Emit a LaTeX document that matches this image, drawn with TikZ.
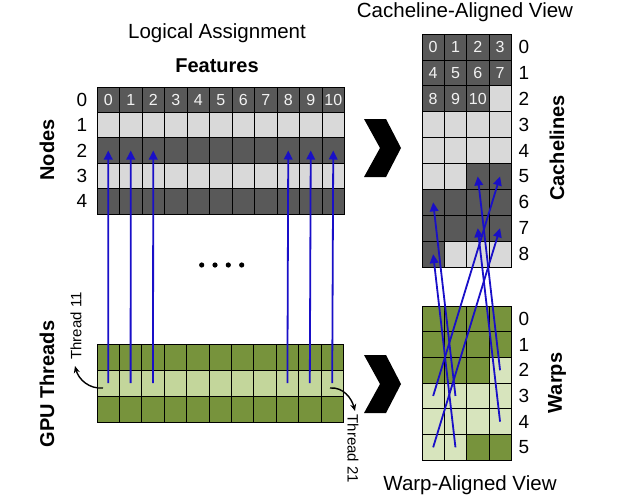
\documentclass[tikz,border=0pt]{standalone}
\usepackage{fontspec}
\setmainfont{Liberation Sans}
\usetikzlibrary{arrows.meta}
\definecolor{dgray}{HTML}{595959}
\definecolor{lgray}{HTML}{D9D9D9}
\definecolor{dgreen}{HTML}{77933C}
\definecolor{tgreen}{HTML}{C3D69B}
\definecolor{wgreen}{HTML}{D7E4BD}
\definecolor{arrblue}{RGB}{25,15,200}
\definecolor{celltxtc}{HTML}{F2F2F2}
\begin{document}
\begin{tikzpicture}[x=1pt,y=-1pt,
  cellbase/.style={draw=black, line width=0.7pt, inner sep=0pt, outer sep=0pt,
    text=celltxtc, font=\fontsize{16}{18}\selectfont},
  lcell/.style={cellbase, minimum width=22.5pt, minimum height=25.4pt},
  gcell/.style={cellbase, minimum width=22.4pt, minimum height=26pt},
  rcell/.style={cellbase, minimum width=22.3pt, minimum height=25.9pt},
  wcell/.style={cellbase, minimum width=22.3pt, minimum height=25.7pt},
  rowlbl/.style={inner sep=0pt, font=\fontsize{19}{21}\selectfont},
  title/.style={inner sep=0pt, font=\fontsize{20.5}{24}\selectfont},
  btitle/.style={inner sep=0pt, font=\fontsize{20}{24}\selectfont\bfseries},
  thrlbl/.style={inner sep=0pt, font=\fontsize{15}{17}\selectfont},
  maparrow/.style={draw=arrblue, line width=1.8pt, -{Triangle[length=9pt,width=8.5pt]}},
  thrarrow/.style={draw=black, line width=1.4pt, -{Stealth[length=7pt,width=6pt]}},
  chev/.style={fill=black}
]
\useasboundingbox (0,0) rectangle (621,496);

% ---------- titles ----------
\node[title] (tlog) at (217,33) {Logical Assignment};
\node[btitle] (tfeat) at (217,66) {Features};
\node[title] (tcache) at (465,12) {Cacheline-Aligned View};
\node[title] (twarp) at (470,485) {Warp-Aligned View};
\node[btitle, rotate=90] (tnodes) at (47,150) {Nodes};
\node[btitle, rotate=90] (tgpu) at (47,384) {GPU Threads};
\node[btitle, rotate=90] (tcl) at (557,148) {Cachelines};
\node[btitle, rotate=90] (twp) at (557,383) {Warps};

% ---------- logical grid ----------
\foreach \r in {0,...,4}{
  \foreach \c in {0,...,10}{
    \ifodd\r \def\cc{lgray}\else\def\cc{dgray}\fi
    \node[lcell, fill=\cc] (L-\r-\c) at ({97+22.5*(\c+0.5)},{87+25.4*(\r+0.5)}) {\ifnum\r=0 \c\fi};
  }
  \node[rowlbl] (LR-\r) at ({82},{87+25.4*(\r+0.5)}) {\r};
}

% ---------- thread grid ----------
\foreach \r in {0,...,2}{
  \foreach \c in {0,...,10}{
    \ifodd\r \def\cc{tgreen}\else\def\cc{dgreen}\fi
    \node[gcell, fill=\cc] (G-\r-\c) at ({97+22.4*(\c+0.5)},{344+26*(\r+0.5)}) {};
  }
}

% ---------- cacheline grid ----------
\foreach \r in {0,...,8}{
  \foreach \c in {0,...,3}{
    \pgfmathtruncatemacro\idx{4*\r+\c}
    \ifnum\idx<11 \def\cc{dgray}\else\ifnum\idx<22 \def\cc{lgray}\else\ifnum\idx<33 \def\cc{dgray}\else\def\cc{lgray}\fi\fi\fi
    \node[rcell, fill=\cc] (C-\r-\c) at ({422+22.3*(\c+0.5)},{34+25.9*(\r+0.5)}) {\ifnum\idx<11 \idx\fi};
  }
  \node[rowlbl] (CR-\r) at ({524},{34+25.9*(\r+0.5)}) {\r};
}

% ---------- warp grid ----------
\foreach \r in {0,...,5}{
  \foreach \c in {0,...,3}{
    \pgfmathtruncatemacro\idx{4*\r+\c}
    \ifnum\idx<11 \def\cc{dgreen}\else\ifnum\idx<22 \def\cc{wgreen}\else\def\cc{dgreen}\fi\fi
    \node[wcell, fill=\cc] (W-\r-\c) at ({422+22.3*(\c+0.5)},{306+25.7*(\r+0.5)}) {};
  }
  \node[rowlbl] (WR-\r) at ({524},{306+25.7*(\r+0.5)}) {\r};
}

% ---------- dots ----------
\foreach \x in {201.7,215,228.3,241.7}{
  \fill (\x,265) circle (2.6);
}

% ---------- chevrons ----------
\fill[chev] (364,119) -- (386,119) -- (401,148) -- (386,177) -- (364,177) -- (380,148) -- cycle;
\fill[chev] (364,355) -- (386,355) -- (401,384) -- (386,413) -- (364,413) -- (380,384) -- cycle;

% ---------- logical mapping arrows ----------
\foreach \c in {0,1,2,8,9,10}{
  \draw[maparrow] (G-1-\c.center) -- (L-2-\c.center);
}

% ---------- warp -> cacheline arrows ----------
\draw[maparrow] (W-2-3.center) -- (C-5-2.center);
\draw[maparrow] (W-3-0.center) -- (C-5-3.center);
\draw[maparrow] (W-3-1.center) -- (C-6-0.center);
\draw[maparrow] (W-4-3.center) -- (C-7-2.center);
\draw[maparrow] (W-5-0.center) -- (C-7-3.center);
\draw[maparrow] (W-5-1.center) -- (C-8-0.center);

% ---------- thread labels ----------
\node[thrlbl, rotate=90] (t11) at (76,326) {Thread 11};
\node[thrlbl, rotate=-90] (t21) at (353,449) {Thread 21};
\coordinate (t11s) at (103,388);
\coordinate (t11e) at (75,366);
\coordinate (t21s) at (330,388);
\coordinate (t21e) at (355,411);
\draw[thrarrow] (t11s) to[out=185, in=-75] (t11e);
\draw[thrarrow] (t21s) to[out=5, in=105] (t21e);
\end{tikzpicture}
\end{document}
